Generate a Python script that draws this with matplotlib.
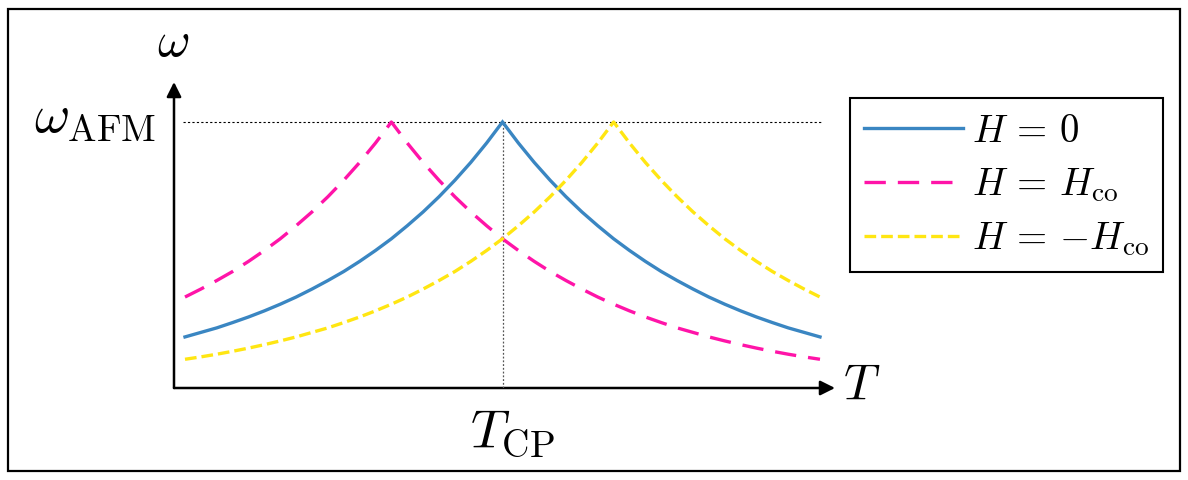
import matplotlib
matplotlib.use("Agg")
import matplotlib.pyplot as plt
import numpy as np
from matplotlib.patches import FancyArrowPatch, Rectangle

plt.rcParams['mathtext.fontset'] = 'cm'
plt.rcParams['font.family'] = ['DejaVu Sans']

# ---- data (schematic values) ----
T_grid = np.linspace(0.0, 10.0, 41)   # sampling positions along T

w_blue = [0.192, 0.209, 0.226, 0.246, 0.267, 0.290, 0.315, 0.342, 0.372, 0.404,
          0.438, 0.476, 0.517, 0.561, 0.610, 0.662, 0.719, 0.781, 0.848, 0.921,
          1.000,
          0.921, 0.848, 0.781, 0.719, 0.662, 0.610, 0.561, 0.517, 0.476, 0.438,
          0.404, 0.372, 0.342, 0.315, 0.290, 0.267, 0.246, 0.226, 0.209, 0.192]

w_pink = [0.342, 0.372, 0.404, 0.438, 0.476, 0.517, 0.561, 0.610, 0.662, 0.719,
          0.781, 0.848, 0.921, 1.000,
          0.921, 0.848, 0.781, 0.719, 0.662, 0.610, 0.561, 0.517, 0.476, 0.438,
          0.404, 0.372, 0.342, 0.315, 0.290, 0.267, 0.246, 0.226, 0.209, 0.192,
          0.177, 0.163, 0.150, 0.138, 0.127, 0.117, 0.108]

w_yellow = [0.108, 0.117, 0.127, 0.138, 0.150, 0.163, 0.177, 0.192, 0.209, 0.226,
            0.246, 0.267, 0.290, 0.315, 0.342, 0.372, 0.404, 0.438, 0.476, 0.517,
            0.561, 0.610, 0.662, 0.719, 0.781, 0.848, 0.921,
            1.000,
            0.921, 0.848, 0.781, 0.719, 0.662, 0.610, 0.561, 0.517, 0.476, 0.438,
            0.404, 0.372, 0.342]

T_cp = 5.0
w_afm = 1.0
labels = [r'$H\,=\,0$', r'$H\,=\,H_{\mathrm{co}}$', r'$H\,=\,{-}H_{\mathrm{co}}$']

W, H = 1188, 480
fig = plt.figure(figsize=(W / 100, H / 100), dpi=100)

# outer frame
fig.patches.append(Rectangle((8 / W, 9 / H), (1180 - 8) / W, (471 - 9) / H,
                             transform=fig.transFigure, fill=False,
                             edgecolor='black', linewidth=1.6))

ax_left, ax_right = 174, 835
ax_bottom, ax_top = 388, 82
ax = fig.add_axes([ax_left / W, 1 - ax_bottom / H,
                   (ax_right - ax_left) / W, (ax_bottom - ax_top) / H])

px_per_T = (820 - 185) / 10.0
px_per_w = (388 - 122) / 1.0
ax.set_xlim(-(185 - ax_left) / px_per_T, 10 + (ax_right - 820) / px_per_T)
ax.set_ylim(0, (ax_bottom - ax_top) / px_per_w)
for s in ax.spines.values():
    s.set_visible(False)
ax.set_xticks([])
ax.set_yticks([])
ax.patch.set_alpha(0)

c_blue = '#3A86C2'
c_pink = '#FF14A8'
c_yellow = '#FFE612'
lw = 2.4

ax.plot([-0.03, 10.03], [w_afm, w_afm], color='black', lw=0.8, ls=(0, (2, 2)))
ax.plot([T_cp, T_cp], [0, w_afm], color='#555555', lw=0.9, ls=(0, (1.5, 1.5)))

l1, = ax.plot(T_grid, w_blue, color=c_blue, lw=lw, solid_joinstyle='miter',
              label=labels[0])
l2, = ax.plot(T_grid, w_pink, color=c_pink, lw=lw, ls=(0, (6.4, 3.6)),
              label=labels[1])
l3, = ax.plot(T_grid, w_yellow, color=c_yellow, lw=lw, ls=(0, (3.5, 1.5)),
              label=labels[2])

# axis arrows
for start, end in [((0, 0), (1, 0)), ((0, 0), (0, 1))]:
    ar = FancyArrowPatch(start, end, transform=ax.transAxes,
                         arrowstyle='-|>', mutation_scale=22,
                         color='black', lw=1.8, shrinkA=0, shrinkB=0,
                         clip_on=False)
    ax.add_patch(ar)

# labels
fig.text(173 / W, 1 - 42 / H, r'$\omega$', fontsize=36, ha='center', va='center')
fig.text(156 / W, 1 - 118 / H, r'$\omega_{\mathrm{AFM}}$', fontsize=39,
         ha='right', va='center')
fig.text(862 / W, 1 - 385 / H, r'$T$', fontsize=36, ha='center', va='center')
fig.text(512 / W, 1 - 432 / H, r'$T_{\mathrm{CP}}$', fontsize=39,
         ha='center', va='center')

leg = ax.legend(handles=[l1, l2, l3], loc='upper left',
                bbox_to_anchor=(850 / W, 1 - 98 / H),
                bbox_transform=fig.transFigure,
                fontsize=28, frameon=True, fancybox=False,
                edgecolor='black', framealpha=1, handlelength=2.55,
                handletextpad=0.25, labelspacing=0.4, borderpad=0.35,
                borderaxespad=0)
leg.get_frame().set_linewidth(1.5)

fig.savefig('out.png', dpi=100)
